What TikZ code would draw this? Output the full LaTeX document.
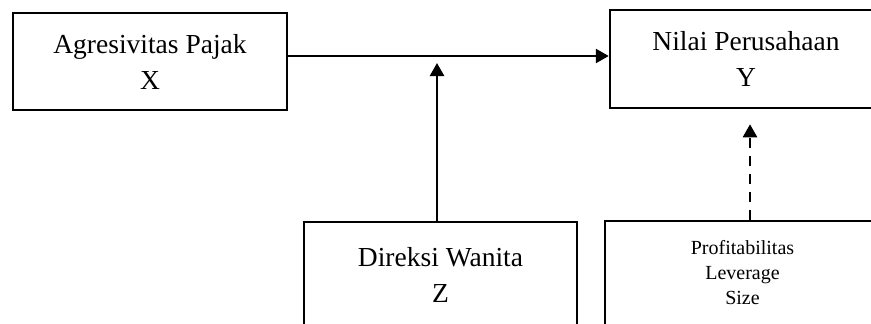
\documentclass[tikz,border=0pt]{standalone}
\usepackage{fontspec}
\setmainfont{Liberation Serif}
\usetikzlibrary{arrows.meta}
\tikzset{
  box/.style={draw, line width=2.5pt, inner sep=0pt, align=center},
  bigtext/.style={font=\fontsize{27.5}{36}\selectfont},
  smalltext/.style={font=\fontsize{20}{25}\selectfont},
  conn/.style={line width=2.5pt, -{Triangle[length=13pt,width=14pt]}},
  dashconn/.style={conn, dash pattern=on 10pt off 8pt}
}
\begin{document}
\begin{tikzpicture}[x=1pt,y=-1pt]
\useasboundingbox (0,0) rectangle (871,324);
\clip (0,0) rectangle (871,324);
\node[box, bigtext, minimum width=274pt, minimum height=97pt] (x) at (150,61.5) {Agresivitas Pajak\\X};
\node[box, bigtext, minimum width=272pt, minimum height=98pt] (y) at (746,59) {Nilai Perusahaan\\Y};
\node[box, bigtext, minimum width=273pt, minimum height=105pt] (z) at (440.5,274.5) {Direksi Wanita\\Z};
\node[box, smalltext, minimum width=275pt, minimum height=104pt] (p) at (742.5,273) {Profitabilitas\\Leverage\\Size};
\coordinate (j) at (437,56);
\coordinate (d) at (750,0);
\draw[conn] (x.east |- j) -- (y.west |- j);
\draw[conn, shorten >=7pt] (z.north -| j) -- (j);
\draw[dashconn, shorten >=15pt] (p.north -| d) -- (y.south -| d);
\end{tikzpicture}
\end{document}
